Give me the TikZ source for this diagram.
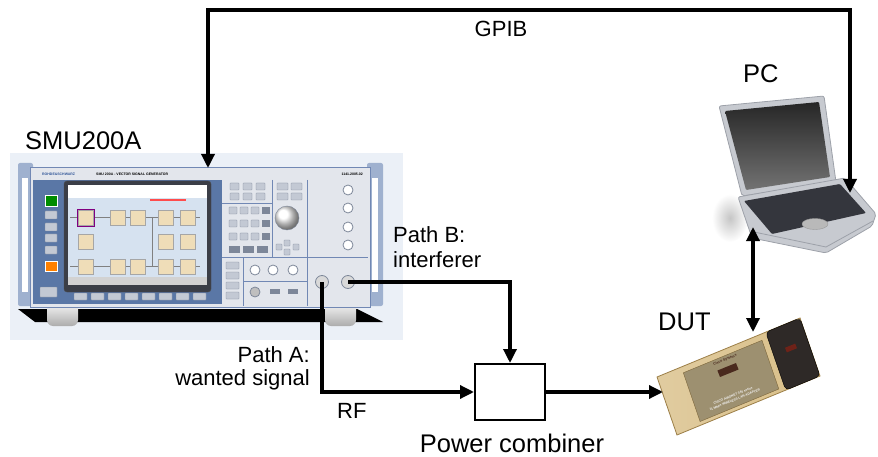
\documentclass[tikz,border=0pt]{standalone}
\usepackage{fontspec}
\setmainfont{Liberation Sans}
\usetikzlibrary{arrows.meta,calc,positioning}
\definecolor{panelbg}{HTML}{EBF0F7}
\definecolor{frameblue}{HTML}{7188B4}
\definecolor{frontgrey}{HTML}{E3E6EC}
\definecolor{dispblue}{HTML}{5A77A6}
\definecolor{bezel}{HTML}{3B3E47}
\definecolor{dispbg}{HTML}{D6E2F0}
\definecolor{boxbeige}{HTML}{EFDDB8}
\definecolor{keygrey}{HTML}{C3C9D4}
\definecolor{keyedge}{HTML}{7D8799}
\definecolor{handleblue}{HTML}{9FB1CF}
\definecolor{rsblue}{HTML}{2F5597}
\definecolor{laptopsilver}{HTML}{C7CAD0}
\definecolor{lidedge}{HTML}{9DA1A9}
\definecolor{kbdark}{HTML}{34363D}
\definecolor{cardgold}{HTML}{D9BF88}
\definecolor{cardedge}{HTML}{9C7F48}
\definecolor{cardlabel}{HTML}{9D9070}
\definecolor{cardcap}{HTML}{2E2927}
\definecolor{logobrown}{HTML}{4A2A1E}
\begin{document}
\begin{tikzpicture}[x=1pt, y=-1pt,
    link/.style={line width=3.3pt, -{Triangle[length=14pt,width=13pt]}},
    twoway/.style={line width=3.3pt, {Triangle[length=14pt,width=13pt]}-{Triangle[length=14pt,width=13pt]}},
    bigtxt/.style={font=\fontsize{25.5}{30}\selectfont, inner sep=0pt},
    txt/.style={font=\fontsize{22}{26}\selectfont, inner sep=0pt},
    tinytxt/.style={font=\fontsize{3.5}{4}\selectfont\bfseries, inner sep=0pt},
    key/.style={fill=keygrey, draw=keyedge, line width=0.3pt, rounded corners=0.5pt},
    jack/.style={circle, draw=keyedge, fill=white, line width=0.8pt, inner sep=0pt, minimum size=10pt}]
    \useasboundingbox (0,0) rectangle (878,457);

    % Signal generator (SMU200A)
    \fill[panelbg] (10,153) rectangle (403,340);
    \fill[black] (18,309) -- (357,309) -- (383,322) -- (35,322) -- cycle;
    \shade[top color=white, bottom color=gray!65, rounded corners=6pt] (47,300) rectangle (78,326);
    \shade[top color=white, bottom color=gray!65, rounded corners=6pt] (325,300) rectangle (356,326);
    \fill[handleblue, rounded corners=2pt] (18,163) rectangle (33,306);
    \fill[white] (22,178) rectangle (28,292);
    \fill[handleblue, rounded corners=2pt] (367,163) rectangle (383,306);
    \fill[white] (372,178) rectangle (378,292);
    \filldraw[fill=frontgrey, draw=frameblue, line width=1pt] (30,168) rectangle (370,307);
    \fill[dispblue] (33,180) rectangle (222,304);
    \node (rsname) [tinytxt, text=rsblue, anchor=west] at (42,174) {ROHDE\&SCHWARZ};
    \node (model) [tinytxt, anchor=west] at (96,174) {SMU 200A - VECTOR SIGNAL GENERATOR};
    \node (serial) [tinytxt, anchor=east] at (363,174) {1141.2005.02};

    % buttons left of the screen
    \fill[green!55!black, draw=white, line width=0.4pt] (45,195) rectangle (57,206);
    \fill[key] (45,211) rectangle (57,219);
    \fill[key] (45,223) rectangle (57,231);
    \fill[key] (45,234) rectangle (57,242);
    \fill[key] (45,246) rectangle (57,254);
    \fill[orange, draw=white, line width=0.4pt] (45,261) rectangle (57,271);
    \fill[key] (40,287) rectangle (57,297);

    % screen
    \filldraw[fill=bezel, draw=black!70, rounded corners=3pt] (64,181) rectangle (211,292);
    \fill[dispbg] (68,185) rectangle (207,285);
    \fill[white] (68,185) rectangle (207,198);
    \fill[red!70] (150,199) rectangle (186,201);
    \fill[gray!35] (68,277) rectangle (207,285);
    \draw[gray, line width=0.6pt] (70,217) -- (200,217);
    \draw[gray, line width=0.6pt] (70,266) -- (200,266);
    \draw[gray, line width=0.6pt] (152,217) -- (152,266);
    \foreach \bx in {78,110,130,158,180} {
        \fill[boxbeige, draw=gray!70, line width=0.3pt] (\bx,210) rectangle ++(15,15);
        \fill[boxbeige, draw=gray!70, line width=0.3pt] (\bx,259) rectangle ++(15,15);
    }
    \foreach \bx in {78,158,180} {
        \fill[boxbeige, draw=gray!70, line width=0.3pt] (\bx,234) rectangle ++(15,15);
    }
    \draw[violet, line width=0.6pt] (77,209) rectangle (94,226);
    \foreach \i in {0,...,7} {
        \fill[key] ({74+\i*17},293) rectangle ({87+\i*17},300);
    }

    % keys and jacks on the right
    \draw[frameblue, line width=0.5pt] (272,180) -- (272,257);
    \draw[frameblue, line width=0.5pt] (307,180) -- (307,306);
    \draw[frameblue, line width=0.5pt] (222,257) -- (368,257);
    \draw[frameblue, line width=0.5pt] (222,203) -- (272,203);
    \draw[frameblue, line width=0.5pt] (243,257) -- (243,306);
    \draw[frameblue, line width=0.5pt] (243,281) -- (307,281);
    \foreach \kx in {230,243,256} {
        \fill[key] (\kx,183) rectangle ++(9,7);
        \fill[key] (\kx,193) rectangle ++(9,7);
    }
    \foreach \ky in {207,220,233} {
        \foreach \kx in {229,240,251} {
            \fill[key] (\kx,\ky) rectangle ++(8,7);
        }
        \fill[keyedge] (262,\ky) rectangle ++(8,7);
    }
    \foreach \kx in {229,243,257} {
        \fill[keyedge] (\kx,246) rectangle ++(11,7);
    }
    \fill[key] (277,183) rectangle ++(11,7);
    \fill[key] (291,183) rectangle ++(11,7);
    \fill[key] (277,193) rectangle ++(11,7);
    \fill[key] (291,193) rectangle ++(11,7);
    \shade[ball color=white, draw=keyedge] (287,218) circle (12);
    \fill[key] (276,244) rectangle ++(6,6);
    \fill[key] (284,240) rectangle ++(6,6);
    \fill[key] (284,249) rectangle ++(6,6);
    \fill[key] (293,244) rectangle ++(6,6);
    \foreach \ky in {262,272,282,292} {
        \fill[key] (226,\ky) rectangle ++(13,7);
    }
    \node (iin) [jack] at (348,190) {};
    \node (qin) [jack] at (348,208) {};
    \node (datain) [jack] at (348,227) {};
    \node (clockin) [jack] at (348,245) {};
    \node (marker1) [jack] at (255,270) {};
    \node (marker2) [jack] at (273,270) {};
    \node (trigger) [jack] at (293,270) {};
    \node (sensor) [jack, fill=gray!50] at (255,292) {};
    \fill[keyedge] (270,289) rectangle ++(10,5);
    \fill[keyedge] (288,289) rectangle ++(10,5);
    \node (rfa) [jack, minimum size=13pt, fill=gray!30] at (322,282) {};
    \node (rfb) [jack, minimum size=13pt, fill=gray!30] at (348,282) {};

    % Laptop (PC)
    \shade[inner color=gray!45, outer color=white] (730,218) ellipse (18 and 24);
    \filldraw[fill=laptopsilver, draw=lidedge, line width=0.8pt, rounded corners=2pt]
        (719,106) -- (824,96) -- (836,182) -- (742,196) -- cycle;
    \shade[top color=black!85, bottom color=black!55, rounded corners=1pt]
        (725,111) -- (819,102) -- (830,177) -- (746,190) -- cycle;
    \filldraw[fill=laptopsilver, draw=lidedge, line width=0.8pt, rounded corners=2pt]
        (738,197) -- (845,178) -- (876,214) -- (872,226) -- (826,253) -- (752,238) -- cycle;
    \fill[kbdark, rounded corners=1pt] (744,201) -- (840,184) -- (866,213) -- (772,234) -- cycle;
    \filldraw[fill=gray!55, draw=gray!80] (815,224) ellipse (13 and 5.5);
    \draw[lidedge, line width=0.8pt] (754,232) -- (826,247) -- (873,221);

    % PCMCIA card (DUT)
    \coordinate (cA) at (657,377);
    \coordinate (cB) at (800,318);
    \coordinate (cC) at (820,376);
    \coordinate (cD) at (677,435);
    \shade[left color=cardgold!80, right color=cardgold, draw=cardedge, line width=0.8pt]
        (cA) -- (cB) -- (cC) -- (cD) -- cycle;
    \filldraw[fill=cardcap, draw=black, rounded corners=4pt]
        (765.7,332.2) -- (cB) -- (cC) -- (785.7,390.2) -- cycle;
    \filldraw[fill=cardlabel, draw=cardedge!80!black, line width=0.4pt]
        (683.3,372.8) -- (762,340.3) -- (778.8,389) -- (700.1,421.5) -- cycle;
    \node (cardlogo) [fill=logobrown, rotate=22, minimum width=20pt, minimum height=7pt, inner sep=0pt] at (728,370) {};
    \node (cardlogo2) [fill=logobrown!80!red, rotate=22, minimum width=11pt, minimum height=5pt, inner sep=0pt] at (791,348) {};
    \node (cardbrand) [tinytxt, rotate=22, text=logobrown] at (725,360) {Cisco Systems};
    \node (cardname) [font=\fontsize{3.2}{4.5}\selectfont\bfseries, inner sep=0pt, align=center, rotate=22, text=white!90!gray]
        at (734,398) {CISCO AIRONET 340 series\\11 Mbps WIRELESS LAN ADAPTER};

    % Power combiner
    \node (comb) [draw, line width=2pt, minimum width=70pt, minimum height=56pt] at (510,392) {};

    % Labels
    \node (smulabel) [bigtxt, anchor=base west] at (25,150) {SMU200A};
    \node (pclabel) [bigtxt, anchor=base west] at (743,83) {PC};
    \node (dutlabel) [bigtxt, anchor=base west] at (658,330) {DUT};
    \node (comblabel) [bigtxt, anchor=base] at (512,452) {Power combiner};
    \node (gpiblabel) [txt, anchor=base] at (501,37) {GPIB};
    \node (pathA) [txt, anchor=base east] at (310,362) {Path A:};
    \node (pathAsub) [txt, anchor=base east] at (310,385) {wanted signal};
    \node (pathB) [txt, anchor=base west] at (393,242) {Path B:};
    \node (pathBsub) [txt, anchor=base west] at (393,267) {interferer};
    \node (rflabel) [txt, anchor=base west] at (337,418) {RF};

    % Connections
    \coordinate (smutop) at (208,168);
    \coordinate (gpibtop) at (500,10);
    \coordinate (pcgpib) at (850,193);
    \coordinate (pcusb) at (753,227);
    \coordinate (dutusb) at (753,332);
    \coordinate (dutin) at (663,392);
    \draw[twoway] (smutop) -- (smutop |- gpibtop) -- (pcgpib |- gpibtop) -- (pcgpib);
    \draw[link] (rfa.center) |- (comb.west);
    \draw[link] (rfb.center) -| (comb.north);
    \draw[link] (comb.east) -- (dutin);
    \draw[twoway] (dutusb) -- (pcusb);

\end{tikzpicture}
\end{document}
